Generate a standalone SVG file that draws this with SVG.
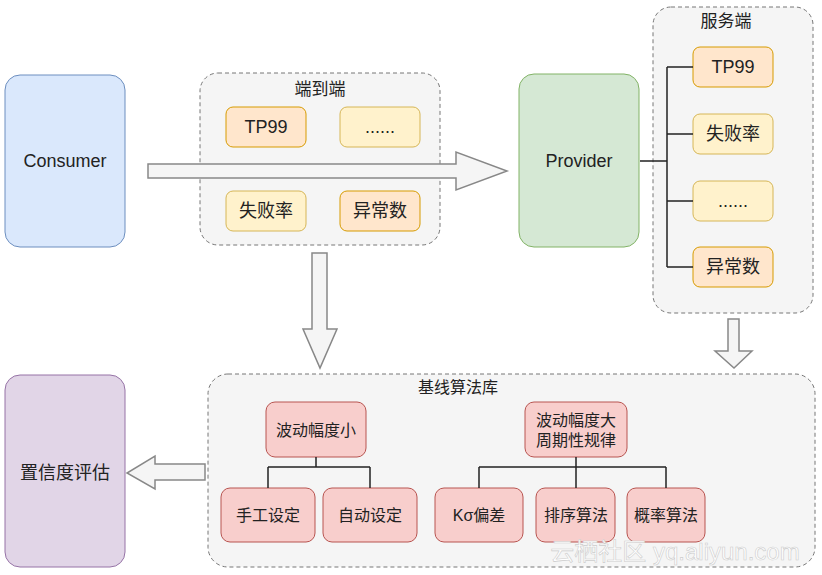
<svg xmlns="http://www.w3.org/2000/svg" width="822" height="575" viewBox="0 0 822 575">
<style>
text{font-family:"Liberation Sans","Noto Sans CJK SC",sans-serif;text-anchor:middle;dominant-baseline:central;fill:#222}
.t{font-size:18px}
.h{font-size:17px}
.s{font-size:16px}
.grp{fill:#f5f5f5;stroke:#777;stroke-width:1;stroke-dasharray:4 3}
.blue{fill:#dae8fc;stroke:#6c8ebf}
.green{fill:#d5e8d4;stroke:#82b366}
.purple{fill:#e1d5e7;stroke:#9673a6}
.orange{fill:#ffe6cc;stroke:#d79b00}
.yellow{fill:#fff2cc;stroke:#d6b656}
.pink{fill:#f8cecc;stroke:#b85450}
.big{fill:#f5f5f5;stroke:#888;stroke-width:1.5}
.line{fill:none;stroke:#222;stroke-width:1.5}
</style>
<rect width="822" height="575" fill="#fff"/>
<g id="consumer"><rect class="blue" x="5" y="75" width="120" height="172" rx="15"/><text class="t" x="65" y="161">Consumer</text></g>
<g id="e2e"><rect class="grp" x="200" y="73" width="240" height="172" rx="18"/><text class="h" x="320" y="89">端到端</text></g>
<g id="e2e-tp99"><rect class="orange" x="226" y="107" width="80" height="40" rx="7"/><text class="t" x="266" y="127">TP99</text></g>
<g id="e2e-more"><rect class="yellow" x="340" y="107" width="80" height="40" rx="7"/><text class="t" x="380" y="127">......</text></g>
<g id="e2e-fail"><rect class="yellow" x="226" y="191" width="80" height="40" rx="7"/><text class="t" x="266" y="211">失败率</text></g>
<g id="e2e-err"><rect class="orange" x="340" y="191" width="80" height="40" rx="7"/><text class="t" x="380" y="211">异常数</text></g>
<g id="provider"><rect class="green" x="519" y="74" width="120" height="173" rx="15"/><text class="t" x="579" y="161">Provider</text></g>
<g id="server"><rect class="grp" x="653" y="7" width="160" height="306" rx="18"/><text class="h" x="726" y="21">服务端</text></g>
<g id="s-tp99"><rect class="orange" x="693" y="47" width="80" height="40" rx="7"/><text class="t" x="733" y="67">TP99</text></g>
<g id="s-fail"><rect class="yellow" x="693" y="114" width="80" height="40" rx="7"/><text class="t" x="733" y="134">失败率</text></g>
<g id="s-more"><rect class="yellow" x="693" y="181" width="80" height="40" rx="7"/><text class="t" x="733" y="201">......</text></g>
<g id="s-err"><rect class="orange" x="693" y="247" width="80" height="40" rx="7"/><text class="t" x="733" y="267">异常数</text></g>
<g id="baseline"><rect class="grp" x="208" y="374" width="607" height="193" rx="20"/><text class="s" x="458" y="387">基线算法库</text></g>
<g id="small"><rect class="pink" x="266" y="402" width="100" height="55" rx="9"/><text class="s" x="316" y="430">波动幅度小</text></g>
<g id="manual"><rect class="pink" x="221" y="488" width="94" height="54" rx="9"/><text class="s" x="268" y="515">手工设定</text></g>
<g id="auto"><rect class="pink" x="323" y="488" width="94" height="54" rx="9"/><text class="s" x="370" y="515">自动设定</text></g>
<g id="large"><rect class="pink" x="525" y="402" width="102" height="55" rx="9"/><text class="s" x="576" y="420">波动幅度大</text><text class="s" x="576" y="440">周期性规律</text></g>
<g id="ksigma"><rect class="pink" x="435" y="488" width="88" height="54" rx="9"/><text class="s" x="479" y="515">Kσ偏差</text></g>
<g id="sort"><rect class="pink" x="536" y="488" width="79" height="54" rx="9"/><text class="s" x="576" y="515">排序算法</text></g>
<g id="prob"><rect class="pink" x="627" y="488" width="78" height="54" rx="9"/><text class="s" x="666" y="515">概率算法</text></g>
<g id="confidence"><rect class="purple" x="5" y="375" width="120" height="192" rx="15"/><text class="t" x="65" y="473">置信度评估</text></g>
<g id="connectors">
<polygon class="big" points="148,164 456,164 456,152 507,171 456,190 456,178 148,178"/>
<polygon class="big" points="312,253 327,253 327,329 337,329 320,368 303,329 312,329"/>
<polygon class="big" points="728,319 739,319 739,351 752,351 734,368 715,351 728,351"/>
<polygon class="big" points="205,464 155,464 155,456 127,473 155,489 155,480 205,480"/>
<path class="line" d="M640,161H667M667,67V267M667,67H693M667,134H693M667,201H693M667,267H693"/>
<path class="line" d="M316,457V467M268,467H370M268,467V488M370,467V488"/>
<path class="line" d="M576,457V467M479,467H666M479,467V488M576,467V488M666,467V488"/>
</g>
<text x="675" y="551" style="font-size:24px;fill:#fff;stroke:#ccc;stroke-width:0.6">云栖社区 yq.aliyun.com</text>
</svg>
